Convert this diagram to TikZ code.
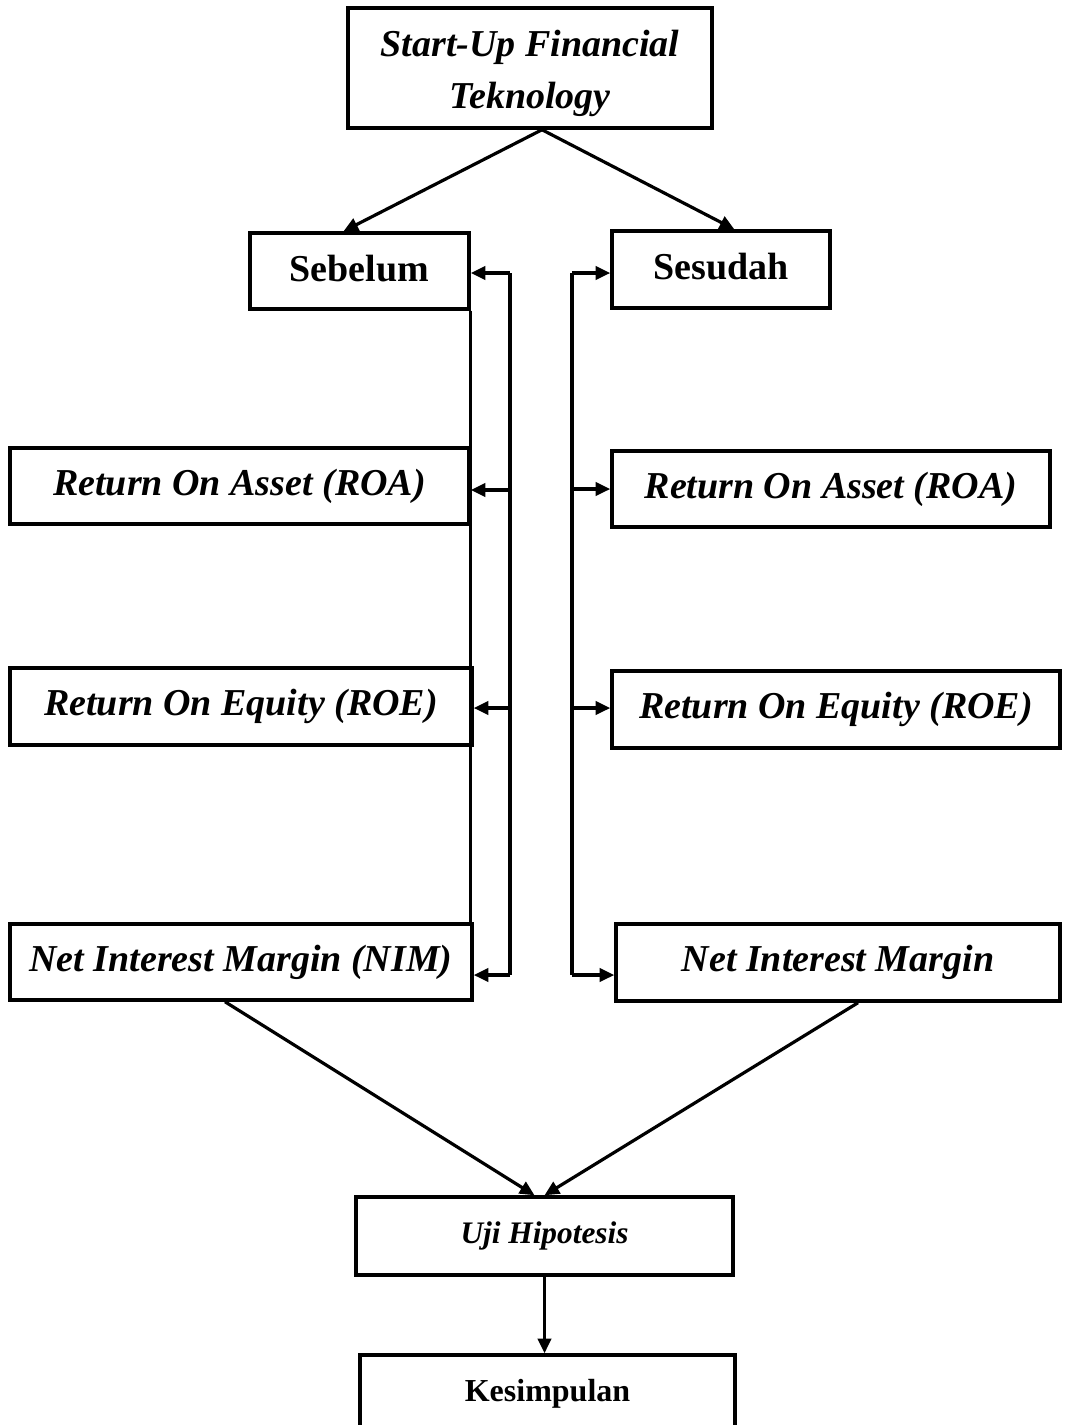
\documentclass[tikz,border=0pt]{standalone}
\usepackage{fontspec}
\setmainfont{Liberation Serif}
\usetikzlibrary{arrows.meta,calc}
\newcommand{\pbox}[7]{\node[bx,#7,minimum width={(#4-#2)*0.75pt},minimum height={(#5-#3)*0.75pt}] (#1) at ({(#2+#4)/2},{(#3+#5)/2}) {#6};}
\begin{document}
\begin{tikzpicture}[x=0.75pt,y=-0.75pt,
  bx/.style={draw,line width=2.6pt,inner sep=0pt,rectangle,align=center},
  bigit/.style={font=\fontsize{28.5}{37.5}\selectfont\bfseries\itshape},
  bigup/.style={font=\fontsize{28.5}{37.5}\selectfont\bfseries},
  midit/.style={font=\fontsize{23.5}{28}\selectfont\bfseries\itshape},
  midup/.style={font=\fontsize{24}{28}\selectfont\bfseries},
  conn/.style={line width=2.4pt},
  arr/.style={conn,-{Triangle[length=11pt,width=10pt]}}]
\useasboundingbox (0,0) rectangle (1066,1425);
\pbox{top}{348}{8}{712}{128}{\raisebox{-4pt}[\height][\depth]{\shortstack{Start-Up Financial\\[10pt]Teknology}}}{bigit}
\pbox{seb}{250}{233}{469}{309}{\raisebox{2pt}[\height][\depth]{Sebelum}}{bigup}
\pbox{ses}{612}{231}{830}{308}{\raisebox{2pt}[\height][\depth]{Sesudah}}{bigup}
\pbox{roaL}{10}{448}{469}{524}{Return On Asset (ROA)}{bigit}
\pbox{roeL}{10}{668}{472}{745}{Return On Equity (ROE)}{bigit}
\pbox{nimL}{10}{924}{472}{1000}{Net Interest Margin (NIM)}{bigit}
\pbox{roaR}{612}{451}{1050}{527}{Return On Asset (ROA)}{bigit}
\pbox{roeR}{612}{671}{1060}{748}{Return On Equity (ROE)}{bigit}
\pbox{nimR}{616}{924}{1060}{1001}{Net Interest Margin}{bigit}
\pbox{uji}{356}{1197}{733}{1275}{Uji Hipotesis}{midit}
\pbox{kes}{360}{1355}{735}{1432}{Kesimpulan}{midup}
% top split
\coordinate (apex) at ([xshift=9pt]top.south);
\draw[arr] (apex) -- ([xshift=-12pt]seb.north);
\draw[arr] (apex) -- ([xshift=10pt]ses.north);
% left bus
\coordinate (L1) at (510,273);
\coordinate (L2) at (510,490);
\coordinate (L3) at (510,708);
\coordinate (L4) at (510,975);
\draw[conn] (L1) -- (L4);
\draw[arr] (L1) -- (L1 -| seb.east);
\draw[arr] (L2) -- (L2 -| roaL.east);
\draw[arr] (L3) -- (L3 -| roeL.east);
\draw[arr] (L4) -- (L4 -| nimL.east);
\draw[conn] (seb.south east) -- (seb.south east |- nimL.north);
% right bus
\coordinate (R1) at (572,273);
\coordinate (R2) at (572,489);
\coordinate (R3) at (572,708);
\coordinate (R4) at (572,975);
\draw[conn] (R1) -- (R4);
\draw[arr] (R1) -- (R1 -| ses.west);
\draw[arr] (R2) -- (R2 -| roaR.west);
\draw[arr] (R3) -- (R3 -| roeR.west);
\draw[arr] (R4) -- (R4 -| nimR.west);
% bottom
\draw[arr] ([xshift=-12pt]nimL.south) -- ([xshift=-7.5pt]uji.north);
\draw[arr] ([xshift=15pt]nimR.south) -- (uji.north);
\draw[arr] (uji.south) -- (uji.south |- kes.north);
\end{tikzpicture}
\end{document}
